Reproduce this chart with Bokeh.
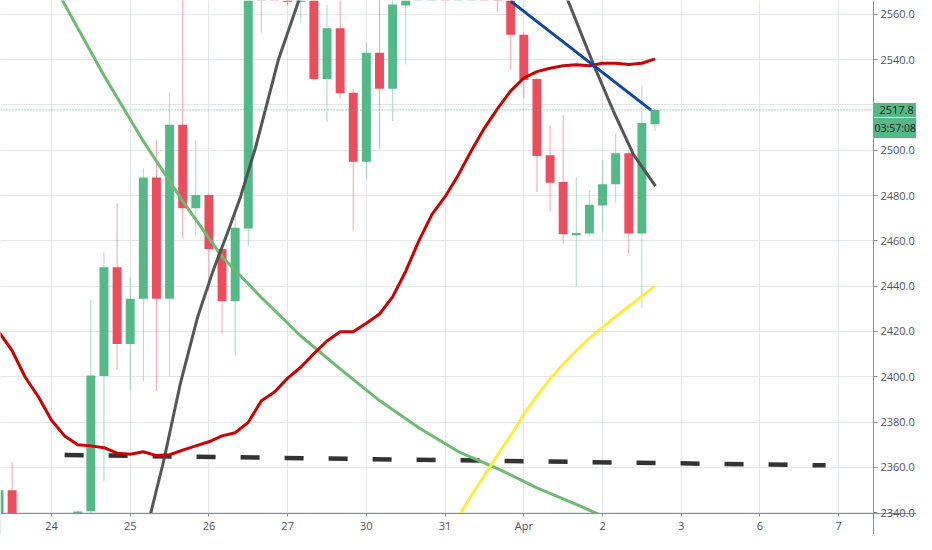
from bokeh.plotting import figure
from bokeh.models import (Range1d, FixedTicker, NumeralTickFormatter, Span, Label,
                          ColumnDataSource, BoxAnnotation)
from bokeh.embed import file_html
from bokeh.resources import INLINE

# ---- data (4h bars, six bars per trading day; index 0 = first bar of the 24th) ----
bar_index = list(range(-4, 47))
opens = [2328, 2349.9, 2325, 2312, 2322, 2316, 2332, 2340.6, 2400.3, 2448.4,
         2414.5, 2434.5, 2488, 2434.5, 2511.2, 2474.4, 2480.2, 2456.4, 2433.3, 2465.5,
         2575, 2590, 2584, 2565.5, 2576, 2531.4, 2553.8, 2525.4, 2494.9, 2543,
         2527.1, 2563.9, 2575, 2585, 2592, 2584, 2590, 2596, 2590, 2572,
         2551, 2531.4, 2497.8, 2486, 2462.5, 2463.2, 2475.6, 2485, 2498.7, 2463.3,
         2511.5]
highs = [2352, 2362.3, 2333, 2330, 2334, 2336, 2341, 2434, 2454.8, 2476.6,
         2444, 2492, 2504.7, 2525.4, 2572, 2504.3, 2481, 2458, 2471.6, 2580,
         2596, 2600, 2590, 2580, 2580, 2564.3, 2570, 2527, 2547.6, 2570,
         2568, 2580, 2590, 2598, 2600, 2596, 2602, 2604, 2594, 2576,
         2552, 2532, 2511.2, 2515.5, 2488, 2482.4, 2495.6, 2507.2, 2499.5, 2528.3,
         2518.4]
lows = [2322, 2318, 2305, 2300, 2310, 2312, 2326, 2335, 2354, 2403,
        2394, 2398, 2393.6, 2400.3, 2461, 2462.2, 2437.6, 2419.2, 2409.5, 2457.8,
        2551.8, 2580, 2564, 2556, 2530.7, 2512.4, 2522.8, 2464.6, 2487.4, 2500.4,
        2512.9, 2537.9, 2568, 2576, 2580, 2576, 2582, 2584, 2561, 2535.5,
        2522.8, 2481.6, 2473, 2459, 2439.8, 2461.9, 2463.6, 2476.6, 2454.2, 2430.4,
        2508.4]
closes = [2349.9, 2325, 2312, 2322, 2316, 2332, 2340.5, 2400.6, 2448.3, 2414.5,
          2434.5, 2488, 2434.5, 2511.2, 2474.4, 2480.2, 2456.4, 2433.3, 2465.8, 2575,
          2590, 2584, 2565.5, 2576, 2531.4, 2553.8, 2525.2, 2494.9, 2543, 2527.1,
          2564.3, 2575, 2585, 2592, 2584, 2590, 2596, 2590, 2572, 2551,
          2531, 2497.5, 2485.7, 2462.9, 2463.5, 2475.9, 2485, 2498.7, 2463.3, 2512,
          2517.8]

day_tick_index = [0, 6, 12, 18, 24, 30, 36, 42, 48, 54, 60]
day_tick_labels = ["24", "25", "26", "27", "30", "31", "Apr", "2", "3", "6", "7"]
grid_price_ticks = [2340, 2360, 2380, 2400, 2420, 2440, 2460, 2480, 2500, 2520, 2540, 2560]
# 2520.0 sits under the last-price tag in the original, so it has no visible label
axis_price_ticks = [2340, 2360, 2380, 2400, 2420, 2440, 2460, 2480, 2500, 2540, 2560]

# red moving average
ema_index = list(range(-4, 47))
ema_values = [2419.7, 2411.5, 2399.8, 2391.2, 2380.8, 2373.9, 2370, 2369.5, 2368.7, 2366.3,
              2365.8, 2366.9, 2365.2, 2365.6, 2367.6, 2369.5, 2371.3, 2373.9, 2375.3, 2379.9,
              2389.4, 2393.3, 2399.4, 2404.2, 2410.2, 2415.8, 2419.9, 2419.9, 2423.6, 2427.7,
              2435.3, 2446.6, 2460, 2471.7, 2479.5, 2489, 2499.8, 2509.8, 2518.4, 2526.2,
              2531.9, 2534.7, 2536.2, 2537.3, 2537.7, 2537.3, 2538.4, 2538.4, 2537.9, 2538.4,
              2540.3]

# light green slow average
slow_index = [0.8, 4, 7, 10, 13, 16, 19, 22, 25, 28, 31, 34, 37, 40, 42]
slow_values = [2566.5, 2533, 2504, 2477.5, 2453, 2435, 2418, 2403.5, 2389.5, 2377.5,
               2367, 2359.5, 2351, 2343.7, 2338.5]

# dark grey curve (rising and falling legs)
dark_up_index = [7.4, 8.54, 9.83, 11.13, 12.27, 13.41, 14.41, 15.55, 17.3, 18.9]
dark_up_values = [2336, 2362.6, 2397.2, 2426.2, 2446.1, 2463.5, 2479.5, 2501.1, 2540.1, 2567]
dark_down_index = [39.3, 41.31, 42.84, 44.36, 46.04]
dark_down_values = [2567, 2537.9, 2517.1, 2498.1, 2484.2]

# blue trend line
trend_index = [35.0, 45.7]
trend_values = [2565.8, 2517.7]

# yellow curve
yellow_index = [31, 32, 33, 34, 35, 36, 37, 38, 39, 40, 41, 42, 43, 44, 45, 46]
yellow_values = [2338, 2347.5, 2356.5, 2365.5, 2374, 2383.5, 2391.5, 2399, 2405.5, 2411.5,
                 2417, 2421.8, 2426.5, 2431, 2435.5, 2440]

# dashed black level
level_index = [1.0, 59.0]
level_values = [2365.5, 2360.9]

last_price = 2517.8
last_price_text = "2517.8"
countdown_text = "03:57:08"

# ---- styling ----
UP = "#53b987"
DOWN = "#eb4d5c"
FONT = "Open Sans"
GRID = "#e3e7ec"
AXIS = "#8a8d92"

AX_X = 62.65      # where the price scale starts
AX_Y = 2339.65    # where the time scale sits

p = figure(width=916, height=534, x_range=Range1d(-3.887, 65.93), y_range=Range1d(2330.38, 2566.1),
           y_axis_location="right", output_backend="svg", toolbar_location=None,
           min_border=0, min_border_left=0, min_border_right=0, min_border_top=0, min_border_bottom=0)
p.outline_line_color = None
p.background_fill_color = "white"
p.border_fill_color = "white"

# grid
p.xgrid.ticker = FixedTicker(ticks=day_tick_index)
p.ygrid.ticker = FixedTicker(ticks=grid_price_ticks)
p.xgrid.grid_line_color = GRID
p.ygrid.grid_line_color = GRID

# axes
p.xaxis.ticker = FixedTicker(ticks=day_tick_index)
p.xaxis.major_label_overrides = {t: l for t, l in zip(day_tick_index, day_tick_labels)}
p.yaxis.ticker = FixedTicker(ticks=axis_price_ticks)
p.yaxis.formatter = NumeralTickFormatter(format="0.0")
for ax in (p.xaxis[0], p.yaxis[0]):
    ax.axis_line_color = AXIS
    ax.major_tick_line_color = AXIS
    ax.minor_tick_line_color = None
    ax.major_tick_in = 0
    ax.major_label_text_font = FONT
    ax.major_label_text_color = "#50535e"
    ax.major_label_text_font_size = "11px"
    ax.level = "overlay"
p.xaxis.fixed_location = AX_Y
p.yaxis.fixed_location = AX_X
p.xaxis.major_tick_out = 3
p.xaxis.major_label_standoff = 2
p.yaxis.major_tick_out = 4
p.yaxis.major_label_standoff = 3

# candles
colors = [UP if c >= o else DOWN for o, c in zip(opens, closes)]
src = ColumnDataSource(dict(
    x=bar_index, o=opens, h=highs, l=lows, c=closes,
    top=[max(o, c) for o, c in zip(opens, closes)],
    bottom=[min(o, c) for o, c in zip(opens, closes)],
    color=colors))
p.segment(x0="x", y0="l", x1="x", y1="h", source=src, line_color="color", line_alpha=0.5, line_width=1)
p.vbar(x="x", width=0.68, top="top", bottom="bottom", source=src, fill_color="color", line_color=None)

# lines
p.line(level_index, level_values, line_color="#333333", line_width=4.5, line_dash="19 25")
p.line(slow_index, slow_values, line_color="#6dbb70", line_width=3)
p.line(dark_up_index, dark_up_values, line_color="#4d4d4d", line_width=3, line_alpha=0.95)
p.line(dark_down_index, dark_down_values, line_color="#4d4d4d", line_width=3, line_alpha=0.95)
p.line(ema_index, ema_values, line_color="#cc0000", line_width=3)
p.line(trend_index, trend_values, line_color="#0d47a1", line_width=3)
p.line(yellow_index, yellow_values, line_color="#ffeb3b", line_width=3)

# last price line
p.add_layout(Span(location=last_price, dimension="width", line_color=UP, line_width=1, line_dash="1 2"))

# blank scale areas (right of the price scale, below the time scale)
p.add_layout(BoxAnnotation(left=AX_X, fill_color="white", fill_alpha=1.0, line_alpha=0.0, level="annotation"))
p.add_layout(BoxAnnotation(top=AX_Y, fill_color="white", fill_alpha=1.0, line_alpha=0.0, level="annotation"))

# price tags on the scale
p.add_layout(Label(x=AX_X, y=last_price, text=last_price_text,
                   text_font=FONT, text_font_size="11px", text_color="#131722",
                   text_baseline="middle", text_align="left", level="overlay",
                   background_fill_color=UP, padding=dict(left=6, right=4, top=3, bottom=3)))
p.add_layout(Label(x=AX_X, y=last_price, y_offset=-18, text=countdown_text,
                   text_font=FONT, text_font_size="10.5px", text_color="#131722",
                   text_baseline="middle", text_align="left", level="overlay",
                   background_fill_color=UP, padding=dict(left=1, right=1, top=3, bottom=3)))

open("out.html", "w").write(file_html(p, INLINE))
